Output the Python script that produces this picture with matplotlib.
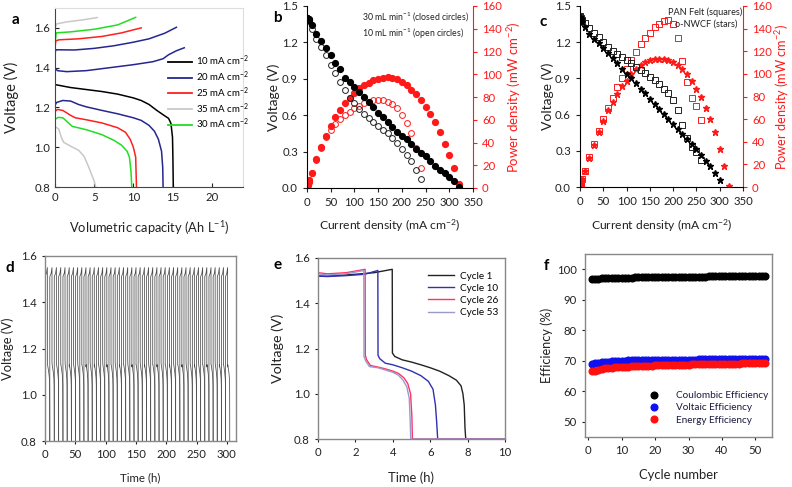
import numpy as np
import matplotlib
matplotlib.use('Agg')
import matplotlib.pyplot as plt
from matplotlib.lines import Line2D

plt.rcParams['font.family'] = ['Lato', 'DejaVu Sans']
plt.rcParams['mathtext.default'] = 'regular'

W, H = 792, 487
RED = '#FF1A1A'
NAVY = '#26268F'
TICK_FS = 8.2

# ---------------- panel a: capacity curves ----------------
a_labels = ['10 mA cm$^{-2}$', '20 mA cm$^{-2}$', '25 mA cm$^{-2}$', '35 mA cm$^{-2}$', '30 mA cm$^{-2}$']
a_colors = ['#000000', NAVY, '#FF2020', '#C8C8C8', '#22DD22']
a_chg_cap = [
    [0, 0.3, 1.5, 4, 7, 10, 12.5, 13.8, 14.5, 15.5, 16.5],
    [0, 0.1, 2.5, 5, 7.5, 10, 12, 14, 15.5],
    [0, 0.1, 0.5, 3, 6, 8.5, 11],
    [0, 0.2, 1.5, 3.5, 5.4],
    [0, 0.15, 2, 5, 8, 10.3],
]
a_chg_v = [
    [1.40, 1.385, 1.38, 1.385, 1.40, 1.415, 1.43, 1.445, 1.465, 1.485, 1.50],
    [1.47, 1.49, 1.489, 1.497, 1.51, 1.528, 1.545, 1.573, 1.603],
    [1.50, 1.535, 1.54, 1.545, 1.557, 1.575, 1.60],
    [1.60, 1.62, 1.63, 1.64, 1.652],
    [1.52, 1.575, 1.58, 1.593, 1.615, 1.653],
]
a_chg_colors = [NAVY, NAVY, '#FF2020', '#C8C8C8', '#22DD22']
a_dis_cap = [
    [0, 2, 4, 6, 8, 10, 11, 12, 13, 14, 14.5, 14.8, 15.0, 15.05, 15.1],
    [0, 0.2, 1, 2, 3, 4, 6, 8, 10, 11, 12, 12.7, 13.2, 13.6, 13.75, 13.8],
    [0, 0.3, 1, 2, 2.6, 4, 6, 8, 9, 9.6, 10.0, 10.3, 10.4],
    [0, 0.5, 0.8, 1.1, 2, 3, 3.7, 4.2, 4.6, 5.0, 5.2],
    [0, 0.4, 1, 1.5, 2.2, 4, 6, 7.5, 8.5, 9.2, 9.5, 9.7, 9.8],
]
a_dis_v = [
    [1.315, 1.30, 1.29, 1.28, 1.267, 1.248, 1.235, 1.215, 1.185, 1.158, 1.145, 1.12, 1.05, 0.95, 0.8],
    [1.21, 1.225, 1.235, 1.232, 1.215, 1.203, 1.185, 1.168, 1.148, 1.135, 1.11, 1.08, 1.04, 0.98, 0.9, 0.8],
    [1.18, 1.19, 1.185, 1.16, 1.148, 1.138, 1.122, 1.098, 1.075, 1.04, 1.0, 0.95, 0.8],
    [1.105, 1.09, 1.05, 1.025, 1.005, 0.985, 0.955, 0.91, 0.87, 0.83, 0.8],
    [1.14, 1.15, 1.148, 1.13, 1.105, 1.088, 1.063, 1.035, 1.01, 0.98, 0.95, 0.88, 0.8],
]

# ---------------- panel b: flow rate polarisation ----------------
b_i_closed = [0, 1, 2, 3, 4, 5] + list(range(10, 330, 10))
b_v_closed = [1.40, 1.40, 1.395, 1.39, 1.39, 1.385, 1.34, 1.27, 1.21, 1.15, 1.095, 1.03, 0.98, 0.91,
              0.875, 0.835, 0.79, 0.75, 0.71, 0.67, 0.62, 0.585, 0.545, 0.50, 0.465, 0.43, 0.40,
              0.36, 0.325, 0.29, 0.26, 0.22, 0.185, 0.15, 0.12, 0.09, 0.055, 0.01]
b_p_closed = [0.5, 1.4, 2.8, 4.2, 5.6, 7.0, 13.4, 25.4, 36.3, 46.0, 54.7, 62.0, 68.7, 74.6, 79.0,
              83.5, 87.5, 90.3, 92.5, 94.8, 96.0, 97.0, 97.2, 97.0, 96.0, 93.6, 90.4, 86.0, 82.5,
              77.5, 71.6, 65.0, 57.6, 49.0, 39.0, 29.0, 17.5, 3.5]
b_i_open = [0, 1, 2, 3, 5] + list(range(10, 250, 10))
b_v_open = [1.40, 1.395, 1.39, 1.385, 1.375, 1.31, 1.23, 1.165, 1.095, 1.01, 0.945, 0.875, 0.81,
            0.745, 0.70, 0.655, 0.61, 0.575, 0.545, 0.515, 0.48, 0.45, 0.415, 0.37, 0.325, 0.27,
            0.22, 0.15, 0.075]
b_p_open = [0.5, 1.4, 2.8, 4.2, 7.0, 13.0, 24.5, 35.0, 44.5, 51.0, 56.0, 60.5, 64.3, 67.0, 70.0,
            72.5, 74.5, 76.0, 77.5, 77.5, 77.5, 76.0, 73.7, 70.0, 64.3, 57.0, 48.0, 35.0, 17.5]

# ---------------- panel c: electrode comparison ----------------
c_i_sq = [0, 1, 2, 3, 5] + list(range(10, 270, 10))
c_v_sq = [1.42, 1.41, 1.40, 1.395, 1.385, 1.356, 1.32, 1.28, 1.24, 1.20, 1.16, 1.13, 1.10, 1.074,
          1.05, 1.024, 0.994, 0.97, 0.947, 0.908, 0.886, 0.852, 0.816, 0.78, 0.725, 0.637, 0.512,
          0.41, 0.33, 0.29, 0.227]
c_p_sq = [0.5, 1.4, 2.8, 4.2, 7.0, 14.5, 26.5, 38.0, 49.5, 60.0, 69.5, 79.0, 88.0, 96.5, 104.0,
          112.0, 119.0, 126.0, 132.0, 136.0, 141.0, 144.5, 146.5, 147.5, 144.5, 132.0, 111.5,
          93.0, 79.0, 71.5, 59.0]
c_i_star_v = [0, 1, 2, 3, 5] + list(range(10, 310, 10))
c_v_star = [1.41, 1.40, 1.39, 1.38, 1.37, 1.33, 1.27, 1.226, 1.19, 1.15, 1.107, 1.07, 1.024, 0.98,
            0.94, 0.90, 0.858, 0.816, 0.775, 0.733, 0.69, 0.65, 0.609, 0.567, 0.526, 0.484,
            0.443, 0.40, 0.354, 0.313, 0.263, 0.219, 0.174, 0.119, 0.061]
c_i_star_p = [0, 1, 2, 3, 5] + list(range(10, 330, 10))
c_p_star = [0.5, 1.4, 2.8, 4.2, 7.0, 14.0, 26.0, 37.0, 49.0, 58.0, 68.0, 75.0, 82.0, 89.0, 94.0,
            99.5, 104.0, 107.5, 110.5, 112.0, 113.0, 113.5, 113.0, 112.5, 110.5, 107.5, 104.5,
            100.0, 94.0, 87.0, 79.5, 70.0, 60.5, 48.5, 34.0, 18.5, 0.6]

# ---------------- panel d: long cycling ----------------
d_cycle_hours = [7.9, 7.4, 7.2, 7.1, 7.0, 6.9, 7.0, 6.9, 6.8, 6.9,
                 6.8, 6.9, 7.0, 6.8, 6.9, 6.9, 6.8, 7.0, 6.9, 6.8,
                 6.9, 6.8, 6.9, 7.0, 6.8, 6.9, 6.9, 6.8, 6.9, 6.9,
                 6.8, 6.9, 6.8, 6.9, 6.9, 6.8, 6.9, 6.8, 6.9, 6.9,
                 6.8, 6.9, 6.8, 6.9]
d_dis_start = [1.16, 1.14, 1.16, 1.13, 1.15, 1.12, 1.14, 1.15, 1.13, 1.12,
               1.14, 1.12, 1.13, 1.15, 1.12, 1.13, 1.14, 1.12, 1.13, 1.15,
               1.12, 1.13, 1.14, 1.12, 1.15, 1.13, 1.12, 1.14, 1.13, 1.12,
               1.14, 1.13, 1.12, 1.15, 1.13, 1.12, 1.14, 1.13, 1.12, 1.13,
               1.14, 1.12, 1.13, 1.12]
d_frac = [0.0, 0.002, 0.08, 0.3, 0.49, 0.492, 0.53, 0.65, 0.8, 0.92, 0.97, 0.99, 1.0]
d_volt = [0.8, 1.51, 1.515, 1.525, 1.55, 1.16, 1.13, 1.115, 1.095, 1.07, 1.04, 0.92, 0.8]

# ---------------- panel e: selected cycles ----------------
e_labels = ['Cycle 1', 'Cycle 10', 'Cycle 26', 'Cycle 53']
e_colors = ['#222222', '#3030B0', '#FF3366', '#9A9ACD']
e_time = [
    [0, 0.01, 0.3, 1, 2, 3, 3.97, 3.98, 4.1, 4.5, 5.0, 5.5, 6.0, 6.5, 7.0, 7.4, 7.65, 7.75, 7.82, 7.86, 7.9, 10],
    [0, 0.01, 0.5, 1.5, 2.5, 3.2, 3.21, 3.3, 3.6, 4.0, 4.5, 5.0, 5.5, 5.9, 6.15, 6.28, 6.35, 6.4, 10],
    [0, 0.01, 0.5, 1.5, 2.52, 2.53, 2.6, 2.8, 3.2, 3.6, 4.0, 4.3, 4.6, 4.8, 4.95, 5.02, 5.05, 10],
    [0, 0.01, 0.5, 1.5, 2.45, 2.46, 2.55, 2.75, 3.2, 3.6, 4.0, 4.3, 4.55, 4.75, 4.88, 4.93, 4.96, 10],
]
e_volt = [
    [0.8, 1.52, 1.52, 1.523, 1.528, 1.535, 1.55, 1.18, 1.165, 1.15, 1.14, 1.128, 1.115, 1.10, 1.08, 1.06, 1.035, 1.0, 0.95, 0.85, 0.8, 0.8],
    [0.8, 1.52, 1.518, 1.522, 1.528, 1.545, 1.17, 1.155, 1.135, 1.128, 1.115, 1.10, 1.08, 1.055, 1.02, 0.95, 0.87, 0.8, 0.8],
    [0.8, 1.535, 1.53, 1.535, 1.55, 1.17, 1.15, 1.125, 1.118, 1.11, 1.10, 1.09, 1.07, 1.045, 1.0, 0.9, 0.8, 0.8],
    [0.8, 1.53, 1.525, 1.53, 1.545, 1.165, 1.145, 1.12, 1.115, 1.105, 1.095, 1.082, 1.06, 1.03, 0.98, 0.88, 0.8, 0.8],
]

# ---------------- panel f: efficiencies ----------------
f_ce = [96.8, 96.9, 96.9, 97.0, 97.0, 97.0, 97.1, 97.1, 97.1, 97.2, 97.2, 97.2, 97.2, 97.3, 97.3,
        97.3, 97.3, 97.3, 97.4, 97.4, 97.4, 97.4, 97.4, 97.5, 97.5, 97.5, 97.5, 97.5, 97.5, 97.6,
        97.6, 97.6, 97.6, 97.6, 97.6, 97.7, 97.7, 97.7, 97.7, 97.7, 97.7, 97.7, 97.8, 97.8, 97.8,
        97.8, 97.8, 97.8, 97.8, 97.9, 97.9, 97.9, 97.9]
f_ve = [68.8, 69.1, 69.3, 69.5, 69.6, 69.7, 69.8, 69.9, 69.9, 70.0, 70.0, 70.1, 70.1, 70.1, 70.2,
        70.2, 70.2, 70.2, 70.3, 70.3, 70.3, 70.3, 70.3, 70.3, 70.4, 70.4, 70.4, 70.4, 70.4, 70.4,
        70.4, 70.4, 70.5, 70.5, 70.5, 70.5, 70.5, 70.5, 70.5, 70.5, 70.5, 70.5, 70.5, 70.5, 70.5,
        70.5, 70.5, 70.5, 70.5, 70.5, 70.5, 70.5, 70.5]
f_ee = [66.5, 66.8, 67.1, 67.3, 67.5, 67.6, 67.7, 67.8, 67.9, 68.0, 68.0, 68.1, 68.2, 68.2, 68.3,
        68.3, 68.4, 68.4, 68.4, 68.5, 68.5, 68.5, 68.6, 68.6, 68.6, 68.6, 68.7, 68.7, 68.7, 68.7,
        68.8, 68.8, 68.8, 68.8, 68.8, 68.9, 68.9, 68.9, 68.9, 68.9, 69.0, 69.0, 69.0, 69.0, 69.0,
        69.1, 69.1, 69.1, 69.1, 69.1, 69.2, 69.2, 69.2]
f_labels = ['Coulombic Efficiency', 'Voltaic Efficiency', 'Energy Efficiency']
f_colors = ['#000000', '#1010F0', '#FF1010']


fig = plt.figure(figsize=(W / 100, H / 100), dpi=100)


def px_axes(l, t, r, b):
    return fig.add_axes([l / W, 1 - b / H, (r - l) / W, (b - t) / H])


def place_labels(ax, xl, yl, xpos, ypos, xfs, yfs, ycolor='#222222'):
    ax.set_xlabel(xl, fontsize=xfs, va='center', color='#222222')
    ax.set_ylabel(yl, fontsize=yfs, va='center', color=ycolor)
    ax.xaxis.set_label_coords(0.5, xpos)
    ax.yaxis.set_label_coords(ypos, 0.5)


def box(ax, color='#888888'):
    for s in ax.spines.values():
        s.set_color(color)
        s.set_linewidth(1.0)


# ---- a ----
ax = px_axes(55, 8, 243, 187)
for x, v, c in zip(a_chg_cap, a_chg_v, a_chg_colors):
    ax.plot(x, v, color=c, lw=1.1)
for x, v, c in zip(a_dis_cap, a_dis_v, a_colors):
    ax.plot(x, v, color=c, lw=1.1)
ax.set_xlim(0, 24)
ax.set_ylim(0.8, 1.7)
ax.set_xticks([0, 5, 10, 15, 20])
ax.set_yticks([0.8, 1.0, 1.2, 1.4, 1.6])
ax.yaxis.set_major_formatter(plt.FormatStrFormatter('%.1f'))
ax.tick_params(labelsize=TICK_FS, length=3, direction='in', colors='#222222')
ax.spines['top'].set_color('#DDDDDD')
ax.spines['right'].set_color('#DDDDDD')
ax.spines['left'].set_color('#444444')
ax.spines['bottom'].set_color('#444444')
handles = [Line2D([], [], color=c, lw=1.3) for c in a_colors]
ax.legend(handles, a_labels, loc='upper left', bbox_to_anchor=(0.6, 0.745), frameon=False,
          fontsize=7, handlelength=2.5, handletextpad=0.4, labelspacing=0.12,
          borderpad=0, borderaxespad=0)
place_labels(ax, 'Volumetric capacity (Ah L$^{-1}$)', 'Voltage (V)', -0.229, -0.234, 9.3, 10.5)

# ---- b ----
ax = px_axes(307, 6, 473, 188)
ax2 = ax.twinx()
ax2.plot(b_i_open, b_p_open, 'o', ms=4.2, mfc='none', mec=RED, mew=0.7)
ax2.plot(b_i_closed, b_p_closed, 'o', ms=4.2, color=RED)
ax.plot(b_i_open, b_v_open, 'o', ms=4.2, mfc='none', mec='#222222', mew=0.7)
ax.plot(b_i_closed, b_v_closed, 'o', ms=4.2, color='#000000')
ax.set_zorder(ax2.get_zorder() + 1)
ax.patch.set_visible(False)
ax.set_xlim(0, 350)
ax.set_ylim(0, 1.5)
ax2.set_ylim(0, 160)
ax.set_xticks(range(0, 351, 50))
ax.set_yticks([0, 0.3, 0.6, 0.9, 1.2, 1.5])
ax.yaxis.set_major_formatter(plt.FormatStrFormatter('%.1f'))
ax2.set_yticks(range(0, 161, 20))
ax.tick_params(labelsize=TICK_FS, length=3, colors='#222222')
ax2.tick_params(labelsize=TICK_FS, length=3, colors=RED)
for s in ['top', 'right']:
    ax.spines[s].set_visible(False)
for s in ['top', 'left', 'bottom']:
    ax2.spines[s].set_visible(False)
ax2.spines['right'].set_color(RED)
place_labels(ax, 'Current density (mA cm$^{-2}$)', 'Voltage (V)', -0.209, -0.2, 8.7, 10)
ax2.set_ylabel('Power density (mW cm$^{-2}$)', fontsize=9.5, color=RED, va='center', rotation=90)
ax2.yaxis.set_label_coords(1.25, 0.5)
ax.text(0.98, 0.935, '30 mL min$^{-1}$ (closed circles)', transform=ax.transAxes, ha='right',
        va='center', fontsize=6.3, color='#222222')
ax.text(0.945, 0.848, '10 mL min$^{-1}$ (open circles)', transform=ax.transAxes, ha='right',
        va='center', fontsize=6.3, color='#222222')

# ---- c ----
ax = px_axes(580, 6, 743, 187)
ax2 = ax.twinx()
ax2.plot(c_i_sq, c_p_sq, 's', ms=4.0, mfc='none', mec=RED, mew=0.7)
ax2.plot(c_i_star_p, c_p_star, '*', ms=5, color=RED)
ax.plot(c_i_sq, c_v_sq, 's', ms=4.0, mfc='none', mec='#222222', mew=0.7)
ax.plot(c_i_star_v, c_v_star, '*', ms=5, color='#000000')
ax.set_zorder(ax2.get_zorder() + 1)
ax.patch.set_visible(False)
ax.set_xlim(0, 350)
ax.set_ylim(0, 1.5)
ax2.set_ylim(0, 160)
ax.set_xticks(range(0, 351, 50))
ax.set_yticks([0, 0.3, 0.6, 0.9, 1.2, 1.5])
ax.yaxis.set_major_formatter(plt.FormatStrFormatter('%.1f'))
ax2.set_yticks(range(0, 161, 20))
ax.tick_params(labelsize=TICK_FS, length=3, colors='#222222')
ax2.tick_params(labelsize=TICK_FS, length=3, colors=RED)
for s in ['top', 'right']:
    ax.spines[s].set_visible(False)
for s in ['top', 'left', 'bottom']:
    ax2.spines[s].set_visible(False)
ax2.spines['right'].set_color(RED)
place_labels(ax, 'Current density (mA cm$^{-2}$)', 'Voltage (V)', -0.215, -0.2, 8.7, 10)
ax2.set_ylabel('Power density (mW cm$^{-2}$)', fontsize=9.2, color=RED, va='center')
ax2.yaxis.set_label_coords(1.242, 0.5)
ax.text(0.998, 0.965, 'PAN Felt (squares)', transform=ax.transAxes, ha='right', va='center',
        fontsize=6.6, color='#222222')
ax.text(0.965, 0.9, 'o-NWCF (stars)', transform=ax.transAxes, ha='right', va='center',
        fontsize=6.6, color='#222222')

# ---- d ----
ax = px_axes(45, 256, 236, 441)
t0 = 0.0
for dur, vs in zip(d_cycle_hours, d_dis_start):
    volts = list(d_volt)
    volts[5] = vs
    ax.plot([t0 + f * dur for f in d_frac], volts, color='#4A4A4A', lw=0.55)
    t0 += dur
ax.set_xlim(0, 315)
ax.set_ylim(0.8, 1.6)
ax.set_xticks(range(0, 301, 50))
ax.set_yticks([0.8, 1.0, 1.2, 1.4, 1.6])
ax.yaxis.set_major_formatter(plt.FormatStrFormatter('%.1f'))
ax.tick_params(labelsize=TICK_FS, length=2.5, colors='#222222')
box(ax)
place_labels(ax, 'Time (h)', 'Voltage (V)', -0.2, -0.194, 8.3, 9.3)

# ---- e ----
ax = px_axes(318, 258, 505, 439)
for t, v, c, lab in zip(e_time, e_volt, e_colors, e_labels):
    ax.plot(t, v, color=c, lw=1.0, label=lab)
ax.set_xlim(0, 10)
ax.set_ylim(0.8, 1.6)
ax.set_xticks(range(0, 11, 2))
ax.set_yticks([0.8, 1.0, 1.2, 1.4, 1.6])
ax.yaxis.set_major_formatter(plt.FormatStrFormatter('%.1f'))
ax.tick_params(labelsize=TICK_FS, length=2.5, colors='#222222')
box(ax)
ax.legend(loc='upper left', bbox_to_anchor=(0.588, 0.925), frameon=False, fontsize=7.2,
          handlelength=2.6, handletextpad=0.6, labelspacing=0.32, borderpad=0, borderaxespad=0)
place_labels(ax, 'Time (h)', 'Voltage (V)', -0.215, -0.214, 9.4, 10.3)

# ---- f ----
ax = px_axes(585, 254, 772, 437)
for vals, c, lab in zip([f_ce, f_ve, f_ee], f_colors, f_labels):
    ax.plot(np.arange(1, len(vals) + 1), vals, 'o', ms=4.8, color=c, mec=c, label=lab)
ax.set_xlim(-1, 55)
ax.set_ylim(45, 105)
ax.set_xticks(range(0, 51, 10))
ax.set_yticks(range(50, 101, 10))
ax.tick_params(labelsize=TICK_FS, length=2.5, colors='#222222')
box(ax)
leg = ax.legend(loc='upper left', bbox_to_anchor=(0.34, 0.25), frameon=False, fontsize=7.2,
                handlelength=1.0, handletextpad=1.7, labelspacing=0.32, borderpad=0,
                borderaxespad=0)
for txt in leg.get_texts():
    txt.set_color('#1A1A40')
place_labels(ax, 'Cycle number', 'Efficiency (%)', -0.208, -0.203, 9.4, 9.2)

# ---- panel letters ----
for lab, x, y in [('a', 15, 20), ('b', 277, 18), ('c', 543, 22),
                  ('d', 10, 268), ('e', 278, 265), ('f', 546, 266)]:
    fig.text(x / W, 1 - y / H, lab, fontsize=11, fontweight='bold', ha='center', va='center')

fig.savefig('out.png', dpi=100)
